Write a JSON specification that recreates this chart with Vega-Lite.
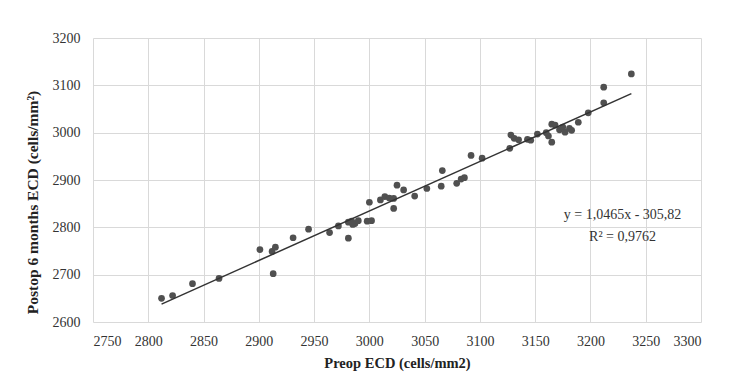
{
  "$schema": "https://vega.github.io/schema/vega-lite/v6.json",
  "width": 608,
  "height": 284,
  "autosize": {"type": "none"},
  "padding": {"left": 93, "top": 38, "right": 32, "bottom": 60},
  "background": "white",
  "config": {
    "view": {"stroke": null},
    "font": "Liberation Serif",
    "axis": {
      "labelFont": "Liberation Serif",
      "titleFont": "Liberation Serif",
      "labelFontSize": 14,
      "titleFontSize": 14.5,
      "labelColor": "#333",
      "titleColor": "#222",
      "gridColor": "#d9d9d9",
      "gridWidth": 1,
      "domain": false,
      "ticks": false
    }
  },
  "data": {
    "values": [
      {"preop": 2812, "postop": 2650},
      {"preop": 2822, "postop": 2656},
      {"preop": 2840, "postop": 2681},
      {"preop": 2864, "postop": 2692},
      {"preop": 2901, "postop": 2753},
      {"preop": 2912, "postop": 2749},
      {"preop": 2915, "postop": 2758},
      {"preop": 2913, "postop": 2702},
      {"preop": 2931, "postop": 2778},
      {"preop": 2945, "postop": 2796},
      {"preop": 2964, "postop": 2789},
      {"preop": 2972, "postop": 2803},
      {"preop": 2981, "postop": 2811},
      {"preop": 2984, "postop": 2813},
      {"preop": 2987, "postop": 2808},
      {"preop": 2985, "postop": 2806},
      {"preop": 2981, "postop": 2777},
      {"preop": 2990, "postop": 2814},
      {"preop": 2998, "postop": 2813},
      {"preop": 3002, "postop": 2814},
      {"preop": 3000, "postop": 2853},
      {"preop": 3010, "postop": 2858},
      {"preop": 3014, "postop": 2865},
      {"preop": 3018, "postop": 2862},
      {"preop": 3022, "postop": 2861},
      {"preop": 3022, "postop": 2840},
      {"preop": 3025, "postop": 2889},
      {"preop": 3031, "postop": 2879},
      {"preop": 3041, "postop": 2866},
      {"preop": 3052, "postop": 2882},
      {"preop": 3065, "postop": 2887},
      {"preop": 3066, "postop": 2920},
      {"preop": 3079, "postop": 2893},
      {"preop": 3083, "postop": 2902},
      {"preop": 3086, "postop": 2905},
      {"preop": 3092, "postop": 2952},
      {"preop": 3102, "postop": 2946},
      {"preop": 3127, "postop": 2967},
      {"preop": 3128, "postop": 2995},
      {"preop": 3131, "postop": 2988},
      {"preop": 3135, "postop": 2985},
      {"preop": 3143, "postop": 2986},
      {"preop": 3146, "postop": 2984},
      {"preop": 3152, "postop": 2997},
      {"preop": 3160, "postop": 3000},
      {"preop": 3162, "postop": 2993},
      {"preop": 3165, "postop": 2980},
      {"preop": 3165, "postop": 3018},
      {"preop": 3168, "postop": 3016},
      {"preop": 3172, "postop": 3006},
      {"preop": 3175, "postop": 3012},
      {"preop": 3177, "postop": 3001},
      {"preop": 3181, "postop": 3009},
      {"preop": 3183, "postop": 3005},
      {"preop": 3189, "postop": 3022},
      {"preop": 3198, "postop": 3042},
      {"preop": 3212, "postop": 3063},
      {"preop": 3212, "postop": 3096},
      {"preop": 3237, "postop": 3124}
    ]
  },
  "encoding": {
    "x": {
      "field": "preop",
      "type": "quantitative",
      "scale": {"domain": [2750, 3300], "nice": false, "zero": false},
      "axis": {"title": "Preop ECD (cells/mm2)", "format": "d", "labelFont": "Liberation Serif", "titleFont": "Liberation Serif", "values": [2750, 2800, 2850, 2900, 2950, 3000, 3050, 3100, 3150, 3200, 3250, 3300], "labelPadding": 12, "titlePadding": 8}
    },
    "y": {
      "field": "postop",
      "type": "quantitative",
      "scale": {"domain": [2600, 3200], "nice": false, "zero": false},
      "axis": {"title": "Postop 6 months ECD (cells/mm²)", "format": "d", "labelFont": "Liberation Serif", "titleFont": "Liberation Serif", "values": [2600, 2700, 2800, 2900, 3000, 3100, 3200], "labelPadding": 13, "titlePadding": 12, "titleFontSize": 15.5, "titleY": 164}
    }
  },
  "layer": [
    {
      "mark": {"type": "circle", "size": 45, "color": "#505050", "opacity": 1}
    },
    {
      "transform": [{"regression": "postop", "on": "preop"}],
      "mark": {"type": "line", "color": "#333333", "strokeWidth": 1.5}
    },
    {
      "data": {"values": [
        {"preop": 3229, "postop": 2826, "label": "y = 1,0465x - 305,82"},
        {"preop": 3229, "postop": 2780, "label": "R² = 0,9762"}
      ]},
      "mark": {"type": "text", "font": "Liberation Serif", "fontSize": 14, "color": "#333"},
      "encoding": {"text": {"field": "label"}}
    }
  ]
}
